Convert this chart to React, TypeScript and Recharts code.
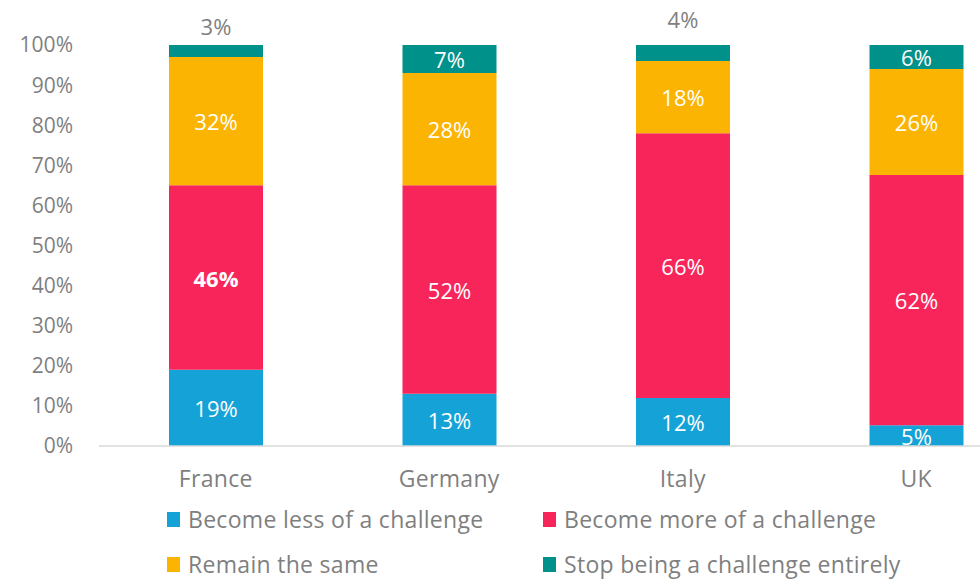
import React from 'react';
import { BarChart, Bar, XAxis, YAxis, LabelList } from 'recharts';

const categories = ['France', 'Germany', 'Italy', 'UK'];
const lessValues = [19, 13, 12, 5.2];
const moreValues = [46, 52, 66, 62.4];
const sameValues = [32, 28, 18, 26.4];
const stopValues = [3, 7, 4, 6];
const yTicks = [0, 10, 20, 30, 40, 50, 60, 70, 80, 90, 100];

const seriesNames = {
  less: 'Become less of a challenge',
  more: 'Become more of a challenge',
  same: 'Remain the same',
  stop: 'Stop being a challenge entirely',
};

const colors = {
  less: '#14A2D7',
  more: '#F8255B',
  same: '#FBB401',
  stop: '#01918B',
};

const data = categories.map((c, i) => ({
  name: c,
  less: lessValues[i],
  more: moreValues[i],
  same: sameValues[i],
  stop: stopValues[i],
}));

const FONT = '"Open Sans", Lato, sans-serif';
const GRAY = '#7f7f7f';
const FS = 21;

const insideLabel = (boldIndex: number | null) => (props: any) => {
  const { x, y, width, height, value, index } = props;
  return (
    <text
      x={x + width / 2}
      y={y + height / 2}
      fill="#ffffff"
      fontSize={22}
      fontFamily={FONT}
      fontWeight={boldIndex === index ? 700 : 400}
      textAnchor="middle"
      dominantBaseline="central"
    >
      {Math.round(value)}%
    </text>
  );
};

const aboveLift: Record<string, number> = { France: 19, Italy: 26 };

const stopLabel = (props: any) => {
  const { x, y, width, height, value, index } = props;
  const cat = categories[index];
  const above = value < 5;
  return (
    <text
      x={x + width / 2}
      y={above ? y - (aboveLift[cat] ?? 20) : y + height / 2}
      fill={above ? GRAY : '#ffffff'}
      fontSize={22}
      fontFamily={FONT}
      textAnchor="middle"
      dominantBaseline="central"
    >
      {Math.round(value)}%
    </text>
  );
};

const LegendBlock = () => {
  const items: (keyof typeof seriesNames)[] = ['less', 'more', 'same', 'stop'];
  return (
    <div style={{ position: 'absolute', left: 0, top: 506, width: 980, height: 73, fontFamily: FONT }}>
      {items.map((k, i) => {
        const col = i % 2;
        const row = Math.floor(i / 2);
        return (
          <div
            key={k}
            style={{
              position: 'absolute',
              left: col === 0 ? 167 : 543,
              top: row * 45,
              display: 'flex',
              alignItems: 'center',
              whiteSpace: 'nowrap',
            }}
          >
            <span style={{ display: 'inline-block', width: 13, height: 15, background: colors[k], marginRight: 8 }} />
            <span style={{ color: GRAY, fontSize: 23, lineHeight: '26px', letterSpacing: 0.3 }}>{seriesNames[k]}</span>
          </div>
        );
      })}
    </div>
  );
};

export default function App() {
  return (
    <div style={{ position: 'absolute', left: 0, top: 0, width: 980, height: 579, overflow: 'hidden', background: '#fff' }}>
      <BarChart
        width={1040}
        height={579}
        data={data}
        margin={{ top: 45, right: 7, bottom: 103, left: 0 }}
        barSize={94}
      >
        <XAxis
          dataKey="name"
          height={30}
          tickLine={false}
          axisLine={{ stroke: '#d9d9d9', strokeWidth: 1.5 }}
          tick={{ fill: GRAY, fontSize: 23, fontFamily: FONT, letterSpacing: 0.3 }}
          tickMargin={19}
        />
        <YAxis
          width={99}
          domain={[0, 100]}
          ticks={yTicks}
          axisLine={false}
          tickLine={false}
          tickMargin={20}
          tickFormatter={(v: number) => `${v}%`}
          tick={{ fill: GRAY, fontSize: FS, fontFamily: FONT }}
          interval={0}
        />
        <Bar dataKey="less" name={seriesNames.less} stackId="a" fill={colors.less} isAnimationActive={false}>
          <LabelList dataKey="less" content={insideLabel(null)} />
        </Bar>
        <Bar dataKey="more" name={seriesNames.more} stackId="a" fill={colors.more} isAnimationActive={false}>
          <LabelList dataKey="more" content={insideLabel(0)} />
        </Bar>
        <Bar dataKey="same" name={seriesNames.same} stackId="a" fill={colors.same} isAnimationActive={false}>
          <LabelList dataKey="same" content={insideLabel(null)} />
        </Bar>
        <Bar dataKey="stop" name={seriesNames.stop} stackId="a" fill={colors.stop} isAnimationActive={false}>
          <LabelList dataKey="stop" content={stopLabel} />
        </Bar>
      </BarChart>
      <LegendBlock />
    </div>
  );
}
